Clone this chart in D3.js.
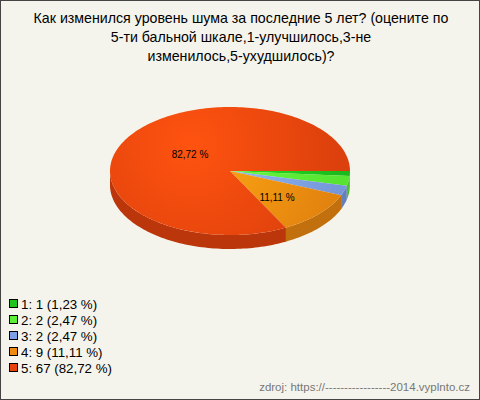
<!DOCTYPE html><html><head><meta charset="utf-8"><script src="https://cdn.jsdelivr.net/npm/d3@7"></script>
<style>body{margin:0;background:#fff}</style></head><body><script>
const categories=["1","2","3","4","5"];
const values=[1,2,2,9,67];
const pctLabels=["1,23 %","2,47 %","2,47 %","11,11 %","82,72 %"];
const colors=["#1ec41e","#5bef35","#7d9fe6","#f08a10","#e8430d"];
const titleLines=["Как изменился уровень шума за последние 5 лет? (оцените по","5-ти бальной шкале,1-улучшилось,3-не","изменилось,5-ухудшилось)?"];
const W=480,H=400,cx=230,cy=171,rx=120,ry=64,dep=14;
const svg=d3.select("body").append("svg").attr("width",W).attr("height",H).style("font-family","Liberation Sans, Arial");
svg.append("rect").attr("x",0.5).attr("y",0.5).attr("width",W-1).attr("height",H-1).attr("fill","#f5f4ec").attr("stroke","#444");
const defs=svg.append("defs");
const pie=d3.pie().sort(null).startAngle(0).endAngle(2*Math.PI)(values);
const P=(t,dy=0)=>[cx+rx*Math.cos(t),cy+ry*Math.sin(t)+dy];
const line=d3.line();
function arcPts(a0,a1,dy){const n=Math.max(2,Math.ceil((a1-a0)*40));return d3.range(n+1).map(i=>P(a0+(a1-a0)*i/n,dy));}
pie.forEach((d,i)=>{const a0=Math.max(d.startAngle,0),a1=Math.min(d.endAngle,Math.PI);if(a1<=a0)return;
 const top=arcPts(a0,a1,0),bot=arcPts(a0,a1,dep).reverse();
 svg.append("path").attr("d",line(top.concat(bot))+"Z").attr("fill",d3.color(colors[i]).darker(0.6));});
pie.forEach((d,i)=>{const a=d.endAngle;if(a>Math.PI/2&&a<Math.PI){const p=P(a);svg.append("path").attr("d",line([[cx,cy],p,[p[0],p[1]+dep],[cx,cy+dep]])+"Z").attr("fill",d3.color(colors[i]).darker(0.9));}});
pie.forEach((d,i)=>{const g=defs.append("radialGradient").attr("id","g"+i).attr("gradientUnits","userSpaceOnUse").attr("cx",cx-40).attr("cy",cy-25).attr("r",150);
 g.append("stop").attr("offset",0).attr("stop-color",d3.color(colors[i]).brighter(0.6));
 g.append("stop").attr("offset",1).attr("stop-color",d3.color(colors[i]).darker(0.15));
 svg.append("path").attr("d",line([[cx,cy]].concat(arcPts(d.startAngle,d.endAngle,0)))+"Z").attr("fill",`url(#g${i})`);});
svg.append("text").attr("x",190).attr("y",158).attr("text-anchor","middle").attr("font-size",10).text(pctLabels[4]);
svg.append("text").attr("x",277).attr("y",201).attr("text-anchor","middle").attr("font-size",10).text(pctLabels[3]);
titleLines.forEach((t,i)=>svg.append("text").attr("x",241).attr("y",23+i*19).attr("text-anchor","middle").attr("font-size",14.2).text(t));
categories.forEach((c,i)=>{const y=304+i*16;
 svg.append("rect").attr("x",9.5).attr("y",y-4.5).attr("width",8).attr("height",8).attr("fill",colors[i]).attr("stroke","#000");
 svg.append("text").attr("x",21).attr("y",y+5).attr("font-size",13.3).text(`${c}: ${values[i]} (${pctLabels[i]})`);});
svg.append("text").attr("x",470).attr("y",391).attr("text-anchor","end").attr("font-size",11.5).attr("fill","#777").text("zdroj: https://-----------------2014.vyplnto.cz");
</script></body></html>
